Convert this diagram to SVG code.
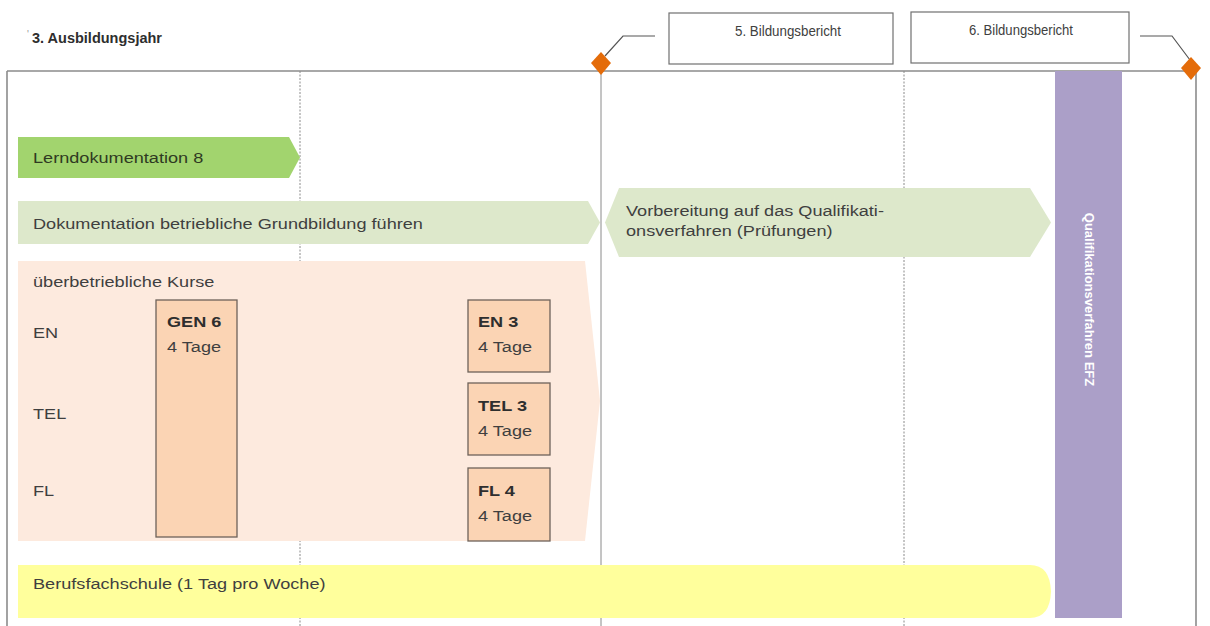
<svg xmlns="http://www.w3.org/2000/svg" width="1210" height="626" viewBox="0 0 1210 626">
  <style>
    .t { font-family: "Liberation Sans", Arial, sans-serif; fill: #3f3f3f; font-size: 15.5px; }
    .b { font-weight: bold; fill: #2e2e2e; }
    .small { font-size: 15px; fill: #404040; }
    .course { fill: #fbd4b4; stroke: #6e6259; stroke-width: 1.3; }
    .frame { stroke: #8c8c8c; stroke-width: 1.6; fill: none; }
    .grid { stroke: #8a8a8a; stroke-width: 1; fill: none; }
    .diamond { fill: #e46c0a; }
    .report { fill: #ffffff; stroke: #707070; stroke-width: 1.2; }
  </style>

  <rect width="1210" height="626" fill="#ffffff"/>

  <!-- title -->
  <text class="t" x="27" y="38" style="font-size:10px;fill:#9a9a9a">'</text>
  <text class="t b" x="32" y="43" style="font-size:14.5px">3. Ausbildungsjahr</text>

  <!-- timeline frame and period separators -->
  <g id="frame">
    <path class="frame" d="M7 71 H1196 M7 71 V626 M1196 71 V626"/>
    <path class="grid" d="M300 71 V626" stroke-dasharray="2 1.5" stroke="#666"/>
    <path class="grid" d="M601 71 V626" stroke="#999"/>
    <path class="grid" d="M904 71 V626" stroke-dasharray="2 1.5" stroke="#aaa"/>
  </g>

  <!-- activity bars; labels use a slightly widened face (x-scale 1.17) -->
  <g id="lerndoku">
    <path d="M18 137 H289 L300 157.5 L289 178 H18 Z" fill="#a2d46e"/>
    <text class="t" transform="matrix(1.17 0 0 1 33 163)" style="fill:#2f3a22">Lerndokumentation 8</text>
  </g>

  <g id="grundbildung">
    <path d="M18 201 H588 L600 222.5 L588 244 H18 Z" fill="#dde8cb"/>
    <text class="t" transform="matrix(1.17 0 0 1 33 229)">Dokumentation betriebliche Grundbildung führen</text>
  </g>

  <g id="vorbereitung">
    <path d="M619 188 H1030 L1051 222.5 L1030 257 H619 L605 222.5 Z" fill="#dde8cb"/>
    <text class="t" transform="matrix(1.17 0 0 1 626 216)">Vorbereitung auf das Qualifikati-</text>
    <text class="t" transform="matrix(1.17 0 0 1 626 236)">onsverfahren (Prüfungen)</text>
  </g>

  <g id="kurse">
    <path d="M18 261 H585 L600 401 L585 541 H18 Z" fill="#fdeade"/>
    <text class="t" transform="matrix(1.17 0 0 1 33 287)">überbetriebliche Kurse</text>
    <text class="t" transform="matrix(1.17 0 0 1 33 338)">EN</text>
    <text class="t" transform="matrix(1.17 0 0 1 33 419)">TEL</text>
    <text class="t" transform="matrix(1.17 0 0 1 33 496)">FL</text>
  </g>

  <g id="gen6">
    <rect class="course" x="156" y="300" width="81" height="237"/>
    <text class="t b" transform="matrix(1.17 0 0 1 167 327)">GEN 6</text>
    <text class="t" transform="matrix(1.17 0 0 1 167 352)">4 Tage</text>
  </g>

  <g id="en3">
    <rect class="course" x="468" y="300" width="82" height="72"/>
    <text class="t b" transform="matrix(1.17 0 0 1 478 327)">EN 3</text>
    <text class="t" transform="matrix(1.17 0 0 1 478 352)">4 Tage</text>
  </g>

  <g id="tel3">
    <rect class="course" x="468" y="383" width="82" height="72"/>
    <text class="t b" transform="matrix(1.17 0 0 1 478 411)">TEL 3</text>
    <text class="t" transform="matrix(1.17 0 0 1 478 436)">4 Tage</text>
  </g>

  <g id="fl4">
    <rect class="course" x="468" y="468" width="82" height="73"/>
    <text class="t b" transform="matrix(1.17 0 0 1 478 496)">FL 4</text>
    <text class="t" transform="matrix(1.17 0 0 1 478 521)">4 Tage</text>
  </g>

  <g id="berufsfachschule">
    <path d="M18 565 H1030 Q1050 565 1051 591.5 Q1050 618 1030 618 H18 Z" fill="#ffff9c"/>
    <text class="t" transform="matrix(1.17 0 0 1 33 589)">Berufsfachschule (1 Tag pro Woche)</text>
  </g>

  <g id="qv">
    <rect x="1055" y="71" width="67" height="547" fill="#ab9fc8"/>
    <text class="t b" transform="translate(1084.5 299.5) rotate(90)" text-anchor="middle" style="fill:#ffffff;font-size:13px">Qualifikationsverfahren EFZ</text>
  </g>

  <!-- milestone markers and their report callouts -->
  <g id="connectors">
    <path d="M605 56 L623 36 H655" fill="none" stroke="#555" stroke-width="1.2"/>
    <path d="M1140 36 H1172 L1190 60" fill="none" stroke="#555" stroke-width="1.2"/>
  </g>

  <g id="milestone5">
    <path class="diamond" d="M601 52 L611 63 L601 75 L591 63 Z"/>
  </g>
  <g id="milestone6">
    <path class="diamond" d="M1191 57 L1201 68 L1191 80 L1181 68 Z"/>
  </g>

  <g id="bericht5">
    <rect class="report" x="669" y="13" width="224" height="51"/>
    <text class="t small" x="735" y="35.5" textLength="106" lengthAdjust="spacingAndGlyphs">5. Bildungsbericht</text>
  </g>
  <g id="bericht6">
    <rect class="report" x="911" y="12" width="218" height="51"/>
    <text class="t small" x="969" y="34.5" textLength="104" lengthAdjust="spacingAndGlyphs">6. Bildungsbericht</text>
  </g>
</svg>
